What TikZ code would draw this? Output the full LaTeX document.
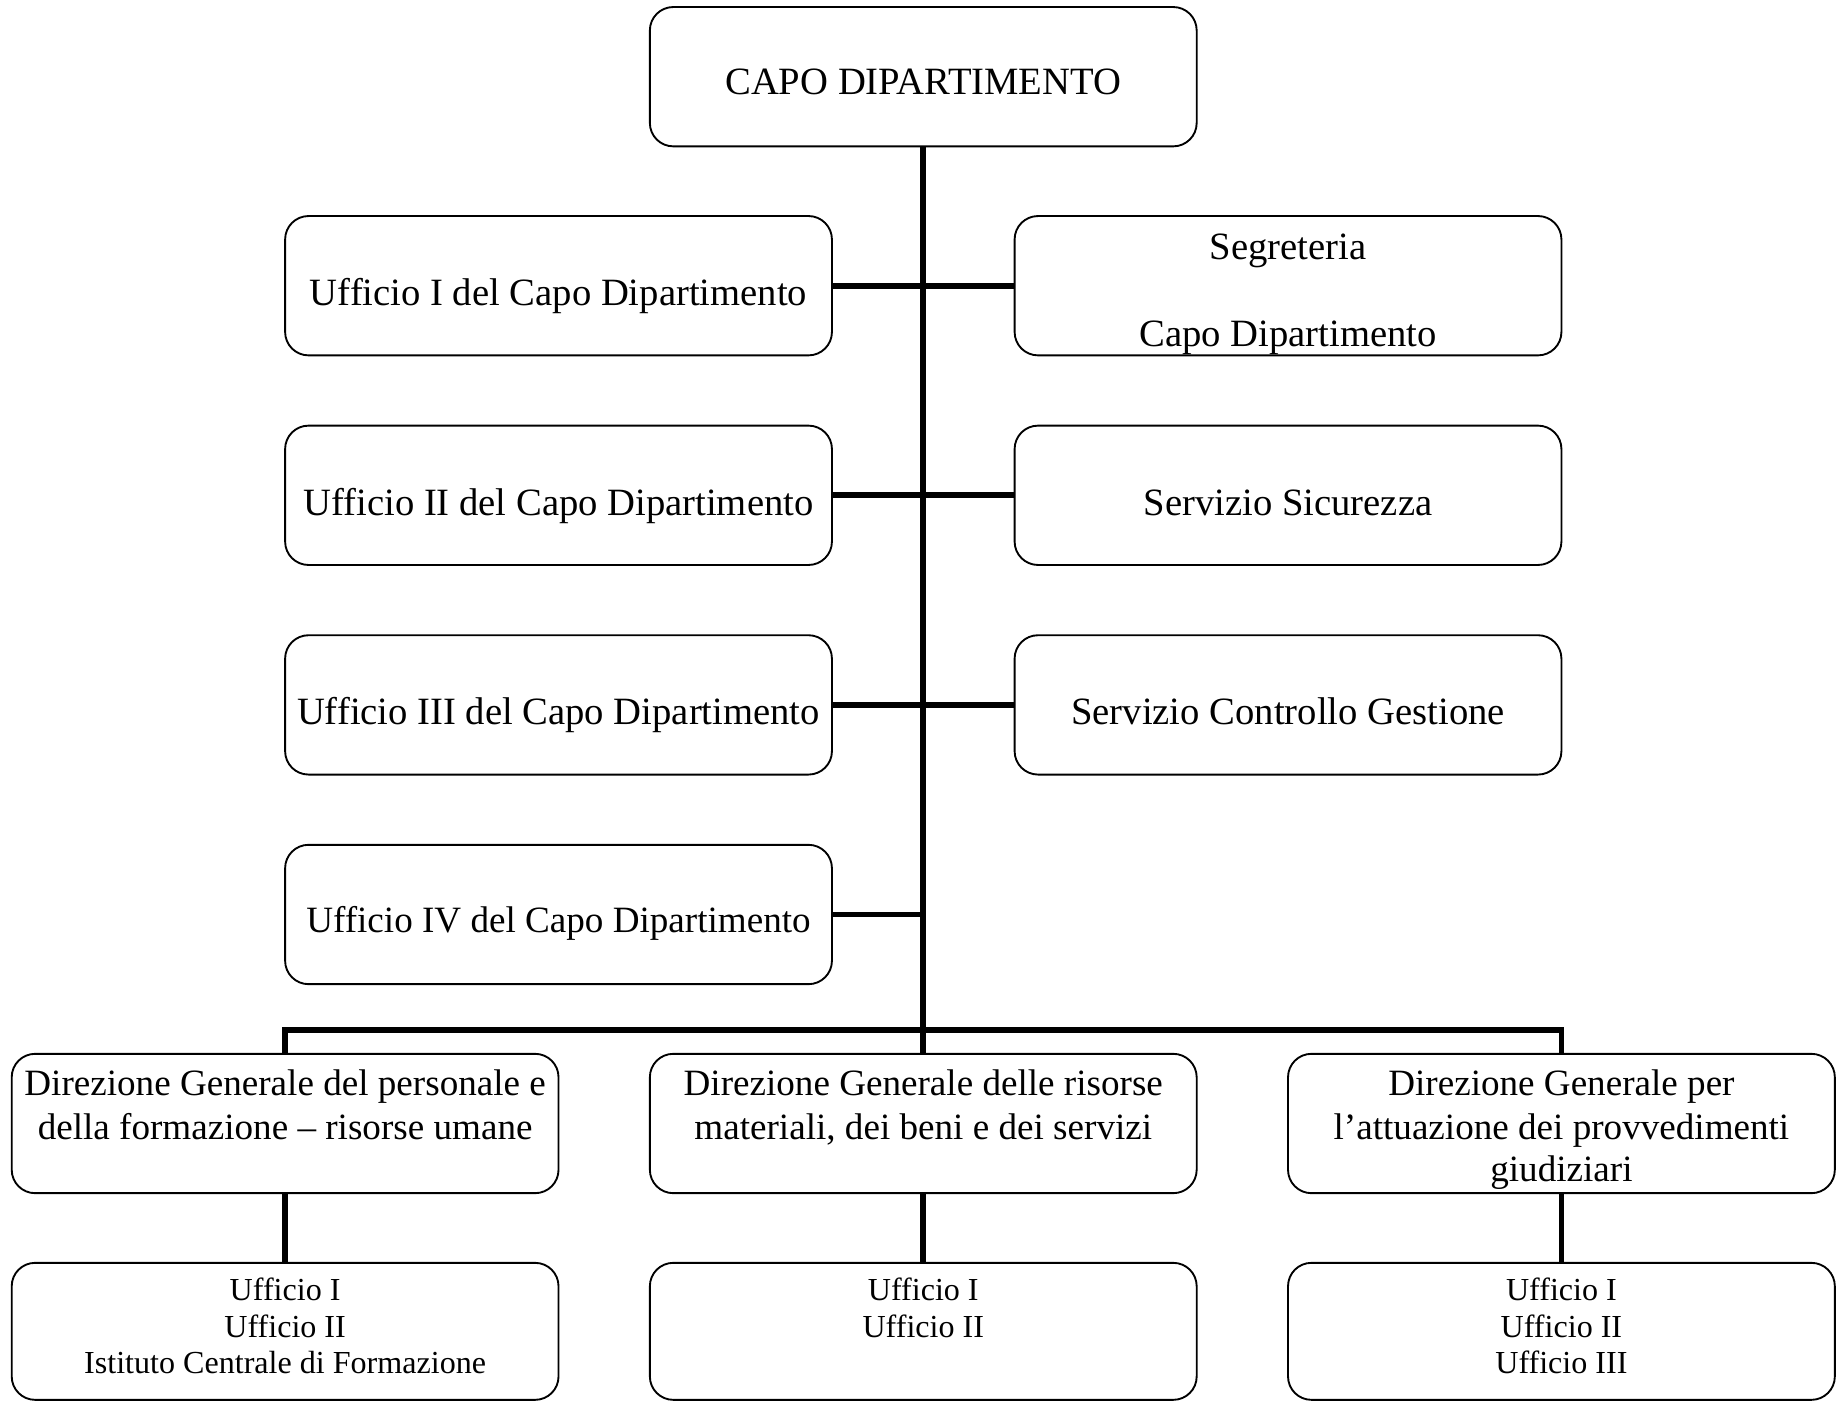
\documentclass[tikz,border=0pt]{standalone}
\usepackage{fontspec}
\setmainfont{Liberation Serif}
\begin{document}
\begin{tikzpicture}[x=1pt,y=-1pt,
  box/.style={draw, rounded corners=20pt, line width=1.6pt, minimum width=467pt, minimum height=119pt, inner sep=0pt, fill=none},
  big/.style={font=\fontsize{33}{38}\selectfont, inner sep=0pt, anchor=base},
  mid/.style={font=\fontsize{31.7}{36}\selectfont, inner sep=0pt, anchor=base},
  small/.style={font=\fontsize{27.4}{31}\selectfont, inner sep=0pt, anchor=base},
  link/.style={line width=5pt}]
\useasboundingbox (0,0) rectangle (1568,1196);
% boxes
\node[box] (top) at (788.5,65.5) {};
\node[box] (u1) at (477,244) {};
\node[box] (u2) at (477,423) {};
\node[box] (u3) at (477,602) {};
\node[box] (u4) at (477,781) {};
\node[box] (s1) at (1100,244) {};
\node[box] (s2) at (1100,423) {};
\node[box] (s3) at (1100,602) {};
\node[box] (d1) at (243.5,959.5) {};
\node[box] (d2) at (788.5,959.5) {};
\node[box] (d3) at (1333.5,959.5) {};
\node[box, minimum height=117pt] (o1) at (243.5,1137) {};
\node[box, minimum height=117pt] (o2) at (788.5,1137) {};
\node[box, minimum height=117pt] (o3) at (1333.5,1137) {};
% texts
\node[big] (ttop) at (788.5,81) {CAPO DIPARTIMENTO};
\node[big] (tu1) at (477,261) {Ufficio I del Capo Dipartimento};
\node[big] (tu2) at (477,440) {Ufficio II del Capo Dipartimento};
\node[big] (tu3) at (477,619) {Ufficio III del Capo Dipartimento};
\node[mid] (tu4) at (477,796) {Ufficio IV del Capo Dipartimento};
\begin{scope}
\clip (s1.north west) rectangle ([yshift=-5.5pt]s1.south east);
\node[big] (ts1a) at (1100,222) {Segreteria};
\node[big] (ts1b) at (1100,296) {Capo Dipartimento};
\end{scope}
\node[big] (ts2) at (1100,440) {Servizio Sicurezza};
\node[big] (ts3) at (1100,619) {Servizio Controllo Gestione};
\node[mid] (td1a) at (243.5,936) {Direzione Generale del personale e};
\node[mid] (td1b) at (243.5,973) {della formazione -- risorse umane};
\node[mid] (td2a) at (788.5,936) {Direzione Generale delle risorse};
\node[mid] (td2b) at (788.5,973) {materiali, dei beni e dei servizi};
\begin{scope}
\clip (d3.north west) rectangle ([yshift=-8.5pt]d3.south east);
\node[mid] (td3a) at (1333.5,936) {Direzione Generale per};
\node[mid] (td3b) at (1333.5,973) {l’attuazione dei provvedimenti};
\node[mid] (td3c) at (1333.5,1009) {giudiziari};
\end{scope}
\node[small] (to1a) at (243.5,1111) {Ufficio I};
\node[small] (to1b) at (243.5,1142) {Ufficio II};
\node[small] (to1c) at (243.5,1173) {Istituto Centrale di Formazione};
\node[small] (to2a) at (788.5,1111) {Ufficio I};
\node[small] (to2b) at (788.5,1142) {Ufficio II};
\node[small] (to3a) at (1333.5,1111) {Ufficio I};
\node[small] (to3b) at (1333.5,1142) {Ufficio II};
\node[small] (to3c) at (1333.5,1173) {Ufficio III};
% connectors
\coordinate (bus) at (788.5,880);
\draw[link] (top.south) -- (d2.north);
\draw[link] (d1.north) |- (bus) -| (d3.north);
\draw[link] (u1.east) -- (s1.west);
\draw[link] (u2.east) -- (s2.west);
\draw[link] (u3.east) -- (s3.west);
\draw[link] (u4.east) -- (u4.east -| top.south);
\draw[link] (d1.south) -- (o1.north);
\draw[link] (d2.south) -- (o2.north);
\draw[link] (d3.south) -- (o3.north);
\end{tikzpicture}
\end{document}
